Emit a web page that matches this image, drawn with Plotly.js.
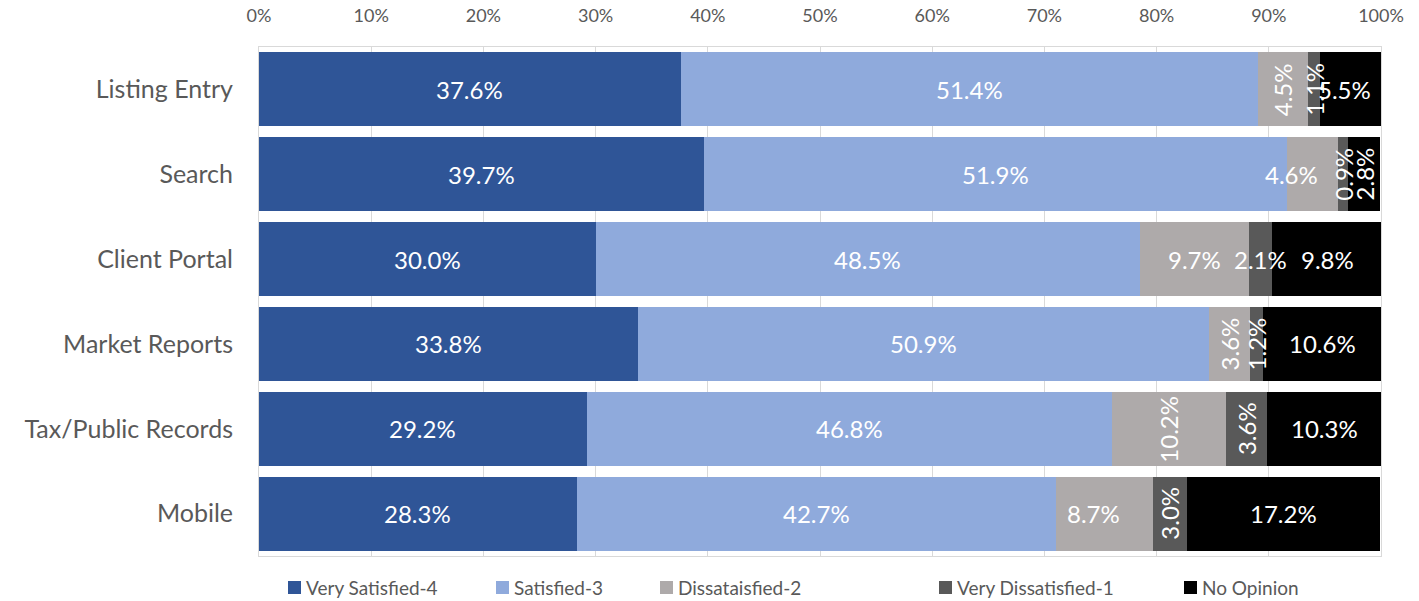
<!DOCTYPE html>
<html>
<head>
<meta charset="utf-8">
<script src="https://cdn.plot.ly/plotly-3.0.1.min.js"></script>
<style>html,body{margin:0;padding:0;background:#fff;}#chart{width:1419px;height:601px;}</style>
</head>
<body>
<div id="chart"></div>
<script>
// ---- data ----
const categories = ["Listing Entry", "Search", "Client Portal", "Market Reports", "Tax/Public Records", "Mobile"];
const seriesNames = ["Very Satisfied-4", "Satisfied-3", "Dissataisfied-2", "Very Dissatisfied-1", "No Opinion"];
const verySatisfied    = [37.6, 39.7, 30.0, 33.8, 29.2, 28.3];
const satisfied        = [51.4, 51.9, 48.5, 50.9, 46.8, 42.7];
const dissatisfied     = [4.5, 4.6, 9.7, 3.6, 10.2, 8.7];
const veryDissatisfied = [1.1, 0.9, 2.1, 1.2, 3.6, 3.0];
const noOpinion        = [5.5, 2.8, 9.8, 10.6, 10.3, 17.2];
const xTickLabels = ["0%", "10%", "20%", "30%", "40%", "50%", "60%", "70%", "80%", "90%", "100%"];

// ---- presentation ----
const seriesValues = [verySatisfied, satisfied, dissatisfied, veryDissatisfied, noOpinion];
const colors = ["#2F5597", "#8FAADC", "#AEAAAA", "#595959", "#000000"];
// label orientation per [category][series]: 1 = vertical
const vertical = [
  [0,0,1,1,0],
  [0,0,0,1,1],
  [0,0,0,0,0],
  [0,0,1,1,0],
  [0,0,1,1,0],
  [0,0,0,1,0]
];
const nudges = {"1,2": -21, "5,2": -11, "0,4": -7};
const legendPx = [288, 496, 660, 939, 1184];

const FONT = "Lato, 'Open Sans', sans-serif";
const plotL = 259, plotR = 1381, plotT = 47, plotB = 556;
const W = 1419, H = 601;
const pw = plotR - plotL, ph = plotB - plotT;
const px2x = p => (p - plotL) / pw;
const py2y = p => (plotB - p) / ph;

const traces = seriesValues.map((vals, i) => ({
  type: "bar",
  orientation: "h",
  name: seriesNames[i],
  y: categories,
  x: vals,
  marker: {color: colors[i], line: {width: 0}},
  hoverinfo: "name+x",
  showlegend: false
}));

const annotations = [];
categories.forEach((cat, ci) => {
  let cum = 0;
  seriesValues.forEach((vals, si) => {
    const v = vals[ci];
    const rot = vertical[ci][si] === 1;
    annotations.push({
      x: cum + v / 2,
      y: cat,
      xref: "x", yref: "y",
      text: v.toFixed(1) + "%",
      showarrow: false,
      textangle: rot ? -90 : 0,
      xshift: nudges[ci + "," + si] || 0,
      font: {family: FONT, size: 24, color: "#FFFFFF"}
    });
    cum += v;
  });
});

// legend (drawn as shapes + text so it does not resize the plot area)
const shapes = [];
seriesNames.forEach((name, i) => {
  const left = legendPx[i];
  shapes.push({
    type: "rect", xref: "paper", yref: "paper",
    x0: px2x(left), x1: px2x(left + 13),
    y0: py2y(594), y1: py2y(581),
    fillcolor: colors[i], line: {width: 0}
  });
  annotations.push({
    xref: "paper", yref: "paper",
    x: px2x(left + 16), y: py2y(587.5),
    xanchor: "left", yanchor: "middle",
    text: name, showarrow: false,
    font: {family: FONT, size: 19, color: "#595959"}
  });
});

const layout = {
  width: W, height: H,
  margin: {l: plotL, r: W - plotR, t: plotT, b: H - plotB, pad: 0},
  paper_bgcolor: "#FFFFFF",
  plot_bgcolor: "#FFFFFF",
  barmode: "stack",
  bargap: 0.127,
  showlegend: false,
  font: {family: FONT, color: "#595959"},
  xaxis: {
    side: "top",
    range: [0, 100],
    tickvals: xTickLabels.map((t, i) => i * 10),
    ticktext: xTickLabels,
    showgrid: true,
    gridcolor: "#D9D9D9",
    gridwidth: 1,
    showline: true,
    linecolor: "#D9D9D9",
    linewidth: 1,
    mirror: true,
    zeroline: false,
    ticks: "",
    ticklabelstandoff: 17,
    tickfont: {family: FONT, size: 18, color: "#595959"},
    automargin: false,
    fixedrange: true
  },
  yaxis: {
    type: "category",
    autorange: "reversed",
    showgrid: false,
    showline: true,
    linecolor: "#D9D9D9",
    linewidth: 1,
    mirror: true,
    zeroline: false,
    ticks: "",
    ticklabelstandoff: 20,
    tickfont: {family: FONT, size: 25, color: "#595959"},
    automargin: false,
    fixedrange: true
  },
  shapes: shapes,
  annotations: annotations
};

Plotly.newPlot("chart", traces, layout, {displayModeBar: false, staticPlot: true});
</script>
</body>
</html>
